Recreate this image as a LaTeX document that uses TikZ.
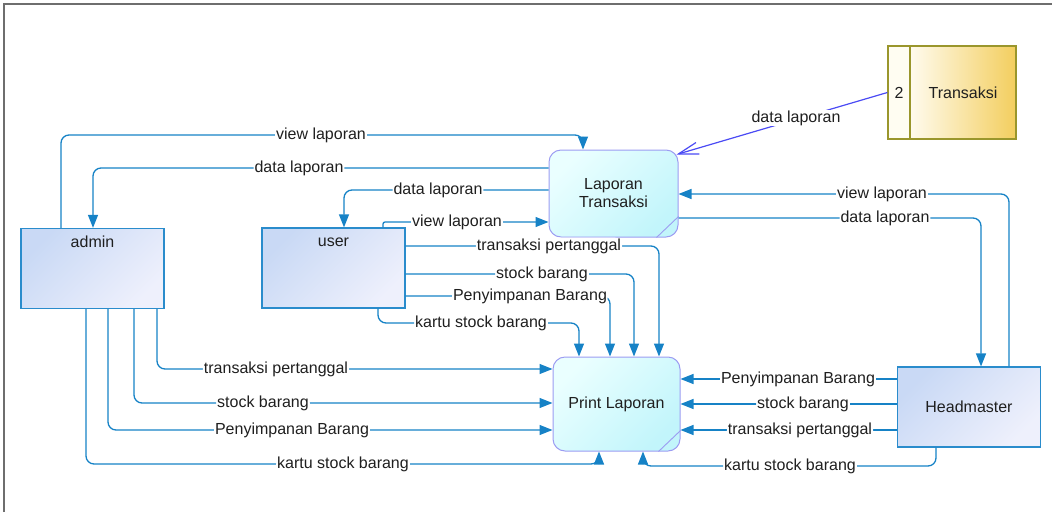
\documentclass[tikz,border=0pt]{standalone}
\usepackage{fontspec}
\setmainfont{Liberation Sans}
\usetikzlibrary{arrows.meta,calc}
\definecolor{flowc}{HTML}{1682C6}
\definecolor{actorb}{HTML}{2A8CCC}
\definecolor{actortl}{HTML}{C9D9F5}
\definecolor{actorbr}{HTML}{EEF0FC}
\definecolor{procb}{HTML}{9C9CF2}
\definecolor{proctl}{HTML}{EAFFFF}
\definecolor{procbr}{HTML}{C2F5FB}
\definecolor{storeb}{HTML}{9A962C}
\definecolor{storel}{HTML}{FFFBEE}
\definecolor{storer}{HTML}{F3CE5E}
\definecolor{storeid}{HTML}{FFFDF2}
\definecolor{datac}{HTML}{4A4AF4}
\definecolor{framec}{HTML}{6E6E6E}
\begin{document}
\begin{tikzpicture}[x=1pt,y=-1pt,
  every node/.style={font=\fontsize{16}{18}\selectfont, text=black!88},
  actor/.style={draw=actorb, line width=1.2pt, top color=actortl, bottom color=actorbr,
    shading angle=45, minimum width=143pt, minimum height=80pt, inner sep=0pt},
  process/.style={draw=procb, line width=1pt, rounded corners=12pt, top color=proctl,
    bottom color=procbr, shading angle=45, align=center, inner sep=0pt},
  fold/.style={draw=procb, line width=0.9pt},
  flow/.style={draw=flowc, line width=1.3pt, rounded corners=8pt,
    -{Triangle[length=13pt,width=10pt]}},
  lbl/.style={fill=white, inner sep=1pt},
  toplbl/.style={anchor=north, inner sep=2pt, yshift=-5pt, text height=12pt}
]
\useasboundingbox (0,0) rectangle (1052,512);

% window frame
\draw[framec, line width=1.6pt] (4,512) -- (4,4) -- (1052,4);

% external entities
\node[actor, label={[toplbl]north:admin}] (admin) at (92.5,268.5) {};
\node[actor, label={[toplbl]north:user}] (user) at (333.5,268) {};
\node[actor] (hm) at (969,407) {Headmaster};

% processes
\node[process, minimum width=129pt, minimum height=87pt] (lt) at (613.5,193.5) {Laporan\\Transaksi};
\draw[fold] ($(lt.south east)+(-22,0)$) -- ($(lt.south east)+(0,-21)$);
\node[process, minimum width=127pt, minimum height=94pt] (pr) at (616.5,404) {Print Laporan};
\draw[fold] ($(pr.south east)+(-22,0)$) -- ($(pr.south east)+(0,-21)$);

% data store
\node[draw=storeb, line width=1.2pt, left color=storel, right color=storer,
  minimum width=106pt, minimum height=93pt, inner sep=0pt] (tr) at (963,92.5) {Transaksi};
\node[draw=storeb, line width=1.2pt, fill=storeid, minimum width=22pt,
  minimum height=93pt, inner sep=0pt] (trid) at (899,92.5) {2};

% data store to process
\draw[datac, line width=1.2pt, -{Straight Barb[length=20pt,width=12pt]}]
  (trid.west) -- ($(lt.north east)+(-2,5)$)
  node[lbl] at (796,118) {data laporan};

% admin <-> Laporan Transaksi
\draw[flow] (admin.north -| 61,0) |- (583,135) node[lbl] at (321,135) {view laporan}
  -- (lt.north -| 583,0);
\draw[flow] (lt.west |- 0,168) -| (admin.north -| 93,0) node[lbl] at (299,168) {data laporan};

% user <-> Laporan Transaksi
\draw[flow] (lt.west |- 0,190) -| (user.north -| 344,0) node[lbl] at (438,190) {data laporan};
\draw[flow, rounded corners=2pt] (user.north -| 383,0) |- (lt.west |- 0,222)
  node[lbl] at (457,222) {view laporan};

% user -> Print Laporan
\draw[flow] (user.east |- 0,246) -| (pr.north -| 659,0) node[lbl] at (549,246) {transaksi pertanggal};
\draw[flow] (user.east |- 0,274) -| (pr.north -| 634,0) node[lbl] at (542,274) {stock barang};
\draw[flow] (user.east |- 0,296) -| (pr.north -| 610,0) node[lbl] at (530,296) {Penyimpanan Barang};
\draw[flow] (user.south -| 378,0) |- (579,323) node[lbl] at (481,323) {kartu stock barang}
  -- (pr.north -| 579,0);

% admin -> Print Laporan
\draw[flow] (admin.south -| 157,0) |- (pr.west |- 0,369) node[lbl] at (276,369) {transaksi pertanggal};
\draw[flow] (admin.south -| 134,0) |- (pr.west |- 0,403) node[lbl] at (263,403) {stock barang};
\draw[flow] (admin.south -| 108,0) |- (pr.west |- 0,430) node[lbl] at (292,430) {Penyimpanan Barang};
\draw[flow] (admin.south -| 86,0) |- (599,464) node[lbl] at (343,464) {kartu stock barang}
  -- (pr.south -| 599,0);

% Headmaster -> Print Laporan
\draw[flow] (hm.west |- 0,379) -- (pr.east |- 0,379) node[lbl] at (798,379) {Penyimpanan Barang};
\draw[flow] (hm.west |- 0,404) -- (pr.east |- 0,404) node[lbl] at (803,404) {stock barang};
\draw[flow] (hm.west |- 0,430) -- (pr.east |- 0,430) node[lbl] at (800,430) {transaksi pertanggal};
\draw[flow] (hm.south -| 936,0) |- (643,466) node[lbl] at (790,466) {kartu stock barang}
  -- (pr.south -| 643,0);

% Headmaster <-> Laporan Transaksi
\draw[flow] (hm.north -| 1009,0) |- (lt.east |- 0,194) node[lbl] at (882,194) {view laporan};
\draw[flow] (lt.east |- 0,218) -| (hm.north -| 981,0) node[lbl] at (885,218) {data laporan};
\end{tikzpicture}
\end{document}
